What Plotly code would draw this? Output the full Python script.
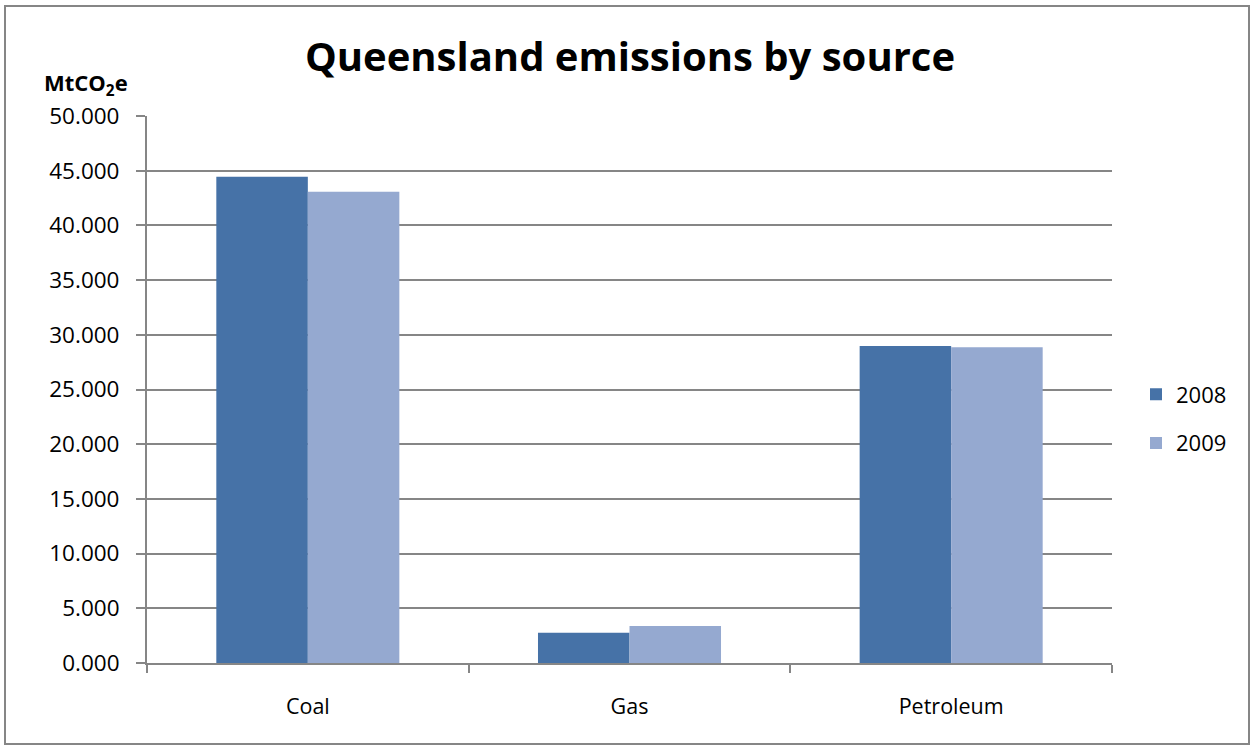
import plotly.graph_objects as go

# Emissions by source, MtCO2e
sources = ["Coal", "Gas", "Petroleum"]
years = ["2008", "2009"]
values_2008 = [44.45, 2.77, 28.98]
values_2009 = [43.08, 3.38, 28.86]
colors = ["#4672A7", "#95A9D0"]
y_ticks = [0, 5, 10, 15, 20, 25, 30, 35, 40, 45, 50]

FONT = "Open Sans"
W, H = 1255, 749
L, R, T, B = 147, 143, 116, 86

fig = go.Figure()
for i, (yr, vals) in enumerate(zip(years, [values_2008, values_2009])):
    fig.add_trace(go.Bar(
        x=sources, y=vals, name=yr, legendgroup=yr,
        marker=dict(color=colors[i], line=dict(width=0)),
    ))

# Convert pixel positions to paper coordinates
pw, ph = W - L - R, H - T - B
def px(x):
    return (x - L) / pw
def py(y):
    return (H - B - y) / ph

fig.update_layout(
    width=W, height=H,
    margin=dict(l=L, r=R, t=T, b=B, pad=0),
    paper_bgcolor="white", plot_bgcolor="white",
    barmode="group", bargap=0.431, bargroupgap=0,
    font=dict(family=FONT, size=21, color="#000000"),
    title=dict(text="<b>Queensland emissions by source</b>",
               font=dict(family=FONT, size=40, color="#000000"),
               x=630 / W, xanchor="center", y=1 - 57 / H, yanchor="middle"),
    xaxis=dict(
        showline=True, linecolor="#868686", linewidth=2,
        ticks="outside", ticklen=8, tickcolor="#868686", tickwidth=2,
        tickson="boundaries", showgrid=False, ticklabelstandoff=23,
        tickfont=dict(family=FONT, size=21.5),
    ),
    yaxis=dict(
        range=[0, 50], tickvals=y_ticks, tickformat=".3f",
        showline=True, linecolor="#868686", linewidth=2,
        ticks="outside", ticklen=9, tickcolor="#868686", tickwidth=2,
        showgrid=True, gridcolor="#868686", gridwidth=1.5,
        zeroline=False, ticklabelstandoff=12,
        tickfont=dict(family=FONT, size=22.5),
    ),
    legend=dict(
        x=px(1136), xanchor="left", y=py(419), yanchor="middle",
        font=dict(family=FONT, size=22), tracegroupgap=17,
        itemwidth=30, bgcolor="rgba(0,0,0,0)",
    ),
    showlegend=True,
    annotations=[dict(
        text="<b>MtCO<sub>2</sub>e</b>", xref="paper", yref="paper",
        x=px(42), xanchor="left", y=py(84), yanchor="middle",
        showarrow=False, font=dict(family=FONT, size=22),
    )],
    shapes=[dict(
        type="rect", xref="paper", yref="paper",
        x0=px(5), x1=px(1249), y0=py(744), y1=py(6),
        line=dict(color="#868686", width=2), fillcolor="rgba(0,0,0,0)", layer="below",
    )],
)

fig.write_html("out.html")
